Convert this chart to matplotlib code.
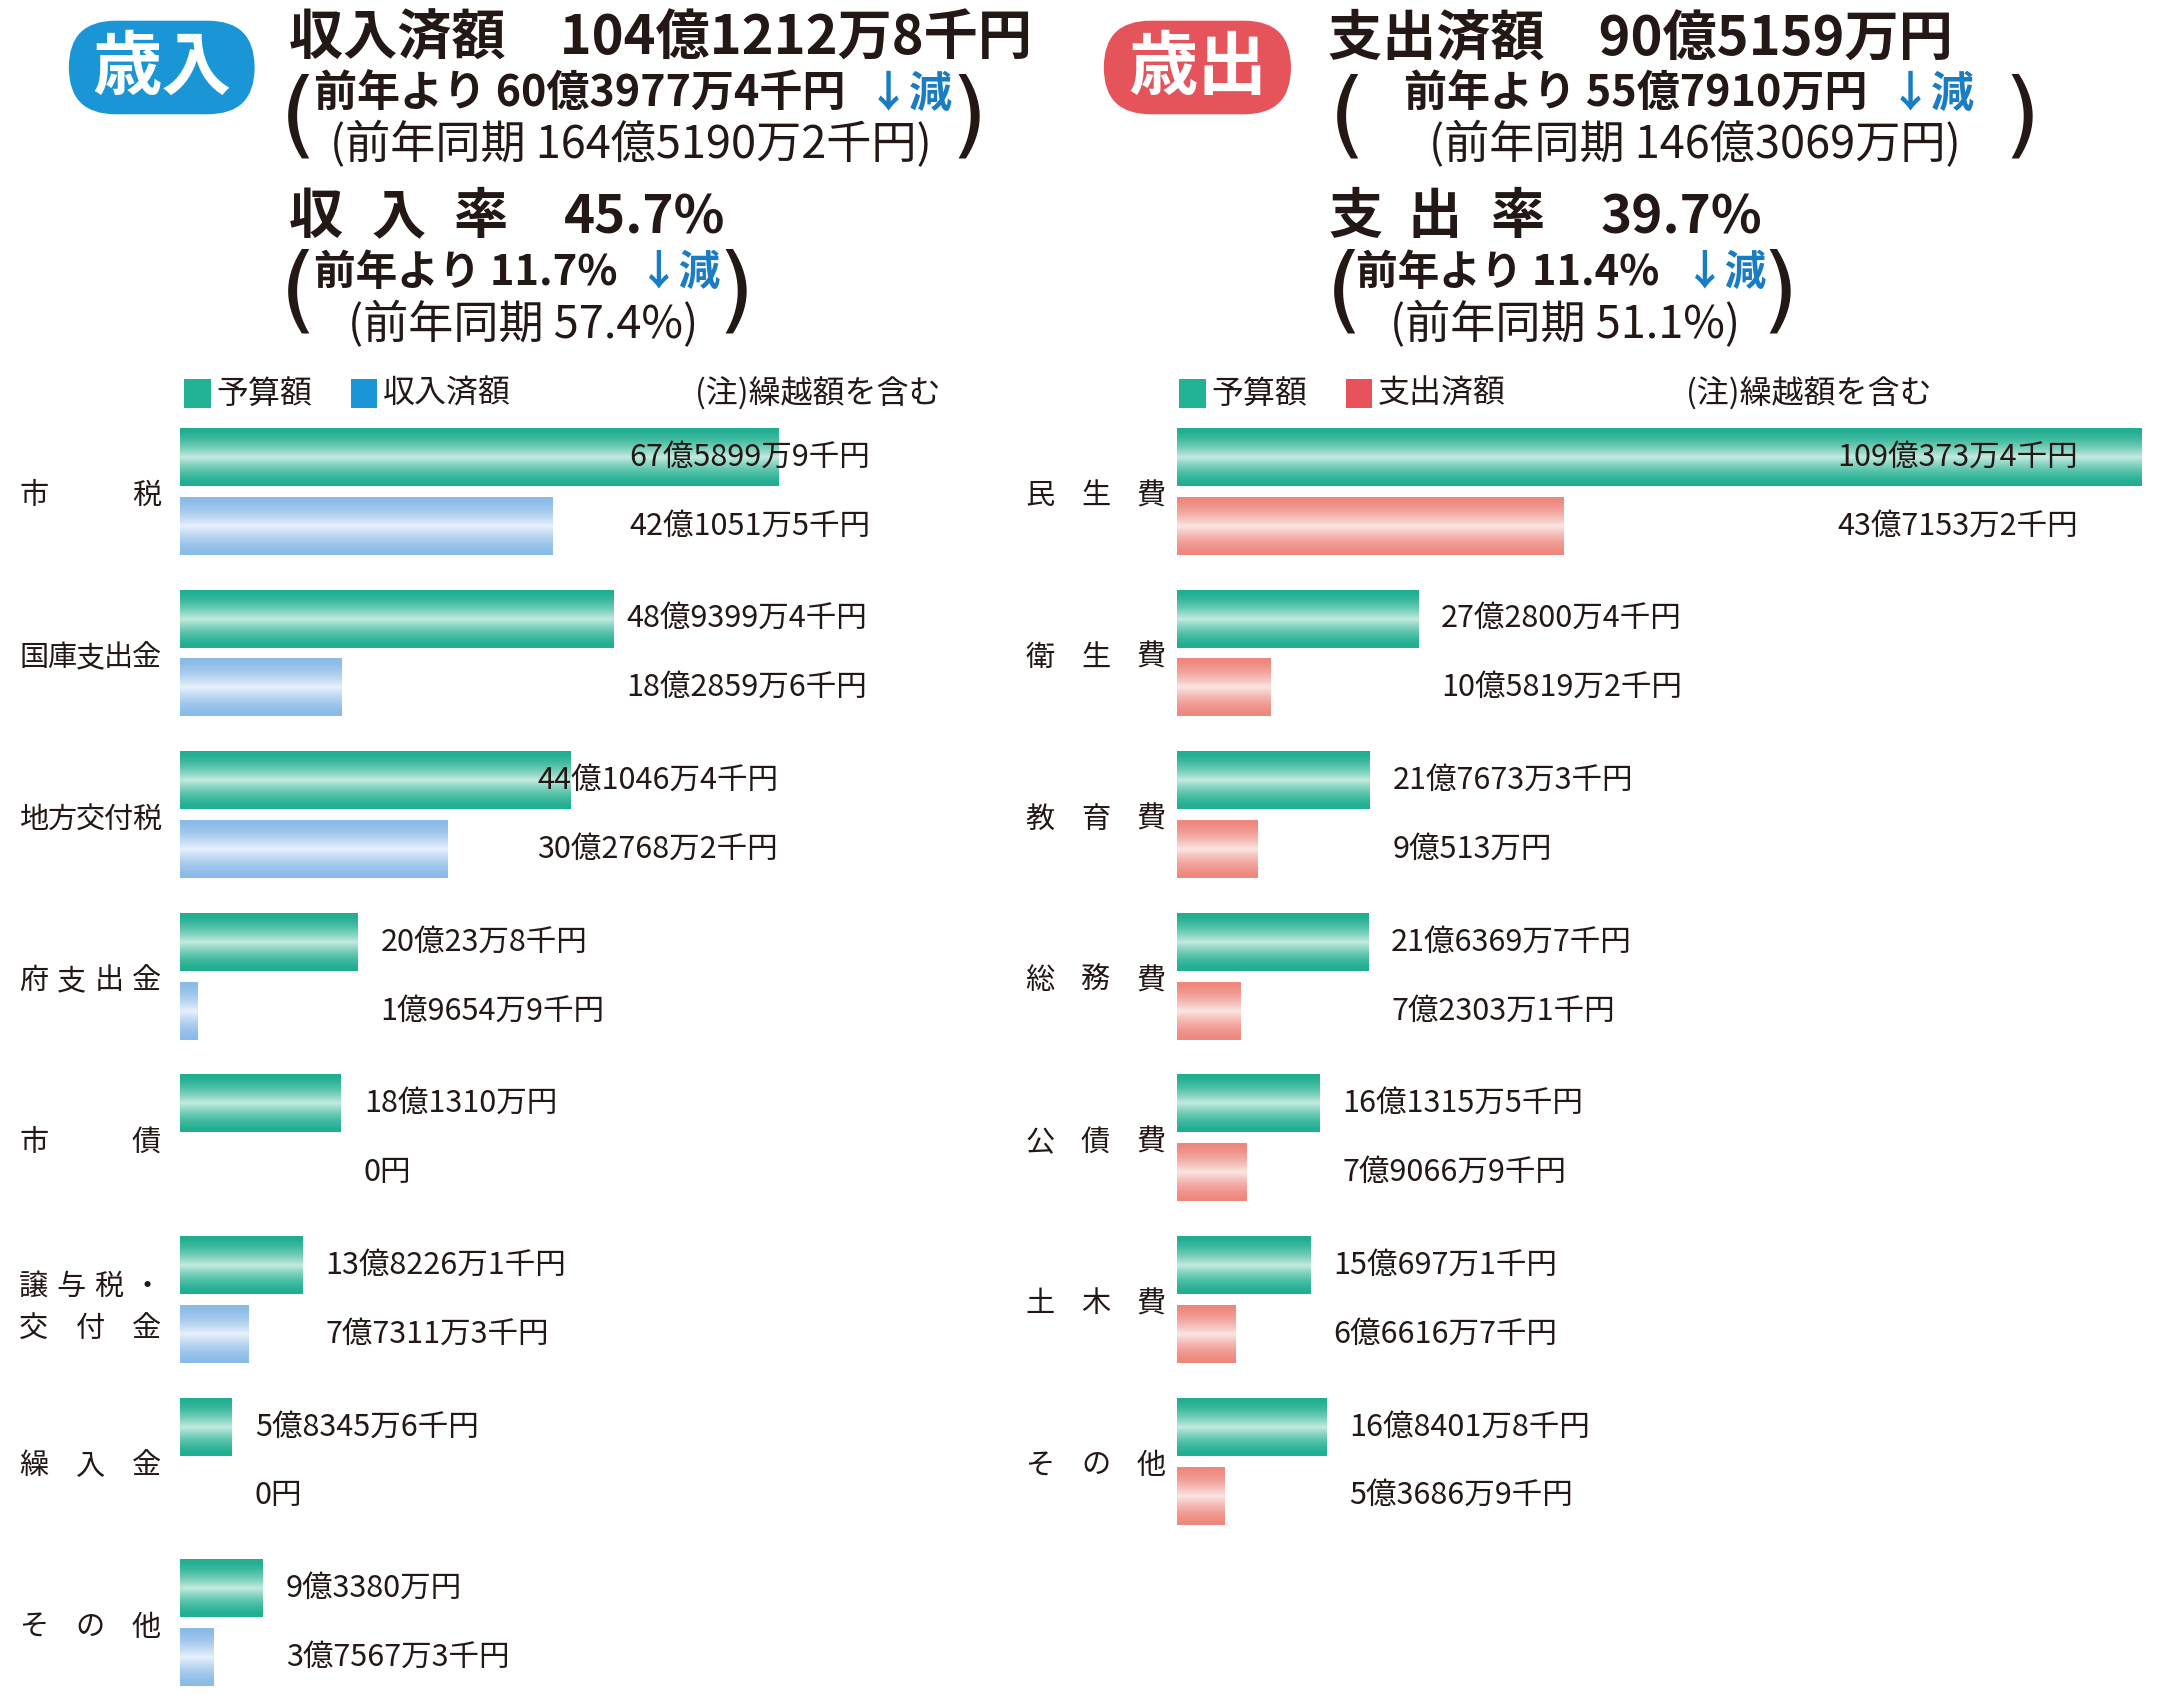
# 歳入・歳出 executed budget chart

import numpy as np
import matplotlib
matplotlib.use('Agg')
import matplotlib.pyplot as plt
from matplotlib.patches import FancyBboxPatch, Rectangle
from matplotlib.transforms import blended_transform_factory

JP = ['Noto Sans CJK JP', 'DejaVu Sans']
plt.rcParams['font.family'] = JP

# values in 千円
rev_cats = ['市税', '国庫支出金', '地方交付税', '府支出金', '市債', '譲与税・\n交付金', '繰入金', 'その他']
rev_budget = [6758999, 4893994, 4410464, 2000238, 1813100, 1382261, 583456, 933800]
rev_actual = [4210515, 1828596, 3027682, 196549, 0, 773113, 0, 375673]

exp_cats = ['民生費', '衛生費', '教育費', '総務費', '公債費', '土木費', 'その他']
exp_budget = [10903734, 2728004, 2176733, 2163697, 1613155, 1506971, 1684018]
exp_actual = [4371532, 1058192, 905130, 723031, 790669, 666167, 536869]

# header texts
rev_head = ['収入済額　104億1212万8千円', '前年より 60億3977万4千円', '(前年同期 164億5190万2千円)',
            '45.7%', '前年より 11.7%', '(前年同期 57.4%)']
exp_head = ['支出済額　90億5159万円', '前年より 55億7910万円', '(前年同期 146億3069万円)',
            '39.7%', '前年より 11.4%', '(前年同期 51.1%)']

GREEN = '#22b394'
BLUE = '#1a96d6'
RED = '#e8525a'
ARROW = '#1a7dc4'

W, H = 1568, 1237   # layout worked out on the shrunk reference


def fx(x):
    return x / W


def fy(y):
    return 1 - y / H


def yen(v):
    if v == 0:
        return '0円'
    oku, man, sen = v // 100000, (v % 100000) // 10, v % 10
    s = ''
    if oku:
        s += f'{oku}億'
    if man:
        s += f'{man}万'
    if sen:
        s += f'{sen}千'
    return s + '円'


def gradient(edge, mid, n=80):
    t = np.linspace(0, 1, n)
    f = (1 - np.abs(2 * t - 1)) ** 1.6
    e = np.array(matplotlib.colors.to_rgb(edge))
    m = np.array(matplotlib.colors.to_rgb(mid))
    return (e[None, :] * (1 - f[:, None]) + m[None, :] * f[:, None])[:, None, :]


fig = plt.figure(figsize=(21.58, 17.03), dpi=100)

PXU = 6.43      # px per 億
STEP = 117.4    # px between groups
C0 = 357        # y of first group centre
BH = 42 / STEP
OFF = 25 / STEP


def spread(ax, s, x0, x1, yd, size=21):
    tr = blended_transform_factory(fig.transFigure, ax.transData)
    n = len(s)
    cw = size * 1.0
    for i, ch in enumerate(s):
        x = x0 + cw / 2 + i * (x1 - x0 - cw) / (n - 1)
        ax.text(fx(x), yd, ch, transform=tr, ha='center', va='center', fontsize=size, color='#231815')


def panel(x0, x1, cats, budget, actual, grad2, label_x, lab_left, lab_right):
    ax = fig.add_axes([fx(x0), fy(H), fx(x1) - fx(x0), fy(300) - fy(H)])
    ylo = (H - C0) / STEP
    yhi = (300 - C0) / STEP
    y = np.arange(len(cats))
    b = np.array(budget) / 100000
    a = np.array(actual) / 100000
    bars1 = ax.barh(y - OFF, b, height=BH, color='none')
    bars2 = ax.barh(y + OFF, a, height=BH, color='none')
    g1 = gradient('#1fae90', '#c4ebdf')
    for bars, g in [(bars1, g1), (bars2, grad2)]:
        for p in bars:
            if p.get_width() <= 0:
                continue
            x, yy, w, h = p.get_x(), p.get_y(), p.get_width(), p.get_height()
            ax.imshow(g, extent=(x, x + w, yy + h, yy), aspect='auto', interpolation='bilinear', zorder=2)
    ax.set_xlim(0, (x1 - x0) / PXU)
    ax.set_ylim(ylo, yhi)
    ax.axis('off')
    for i in range(len(cats)):
        lx = label_x.get(i, b[i] + 2.6)
        ax.text(lx, i - OFF, yen(budget[i]), ha='left', va='center', fontsize=22, color='#231815', zorder=3)
        ax.text(lx, i + OFF, yen(actual[i]), ha='left', va='center', fontsize=22, color='#231815', zorder=3)
        name = cats[i]
        if '\n' in name:
            l1, l2 = name.split('\n')
            spread(ax, l1, lab_left, lab_right, i - 0.08)
            spread(ax, l2, lab_left, lab_right, i + 0.18)
        else:
            spread(ax, name, lab_left, lab_right, i + 0.03)
    return ax


panel(131, 720, rev_cats, rev_budget, rev_actual, gradient('#8abbe8', '#e8f1fb'),
      {0: 50.7, 1: 50.4, 2: 40.3}, 14, 117)
panel(855, 1568, exp_cats, exp_budget, exp_actual, gradient('#ee877e', '#fbe6e3'),
      {0: 74.6}, 745, 847)


def badge(x0, x1, y0, y1, text, color):
    s = 1.3763 / 100
    p = FancyBboxPatch((x0 * s, (H - y1) * s * 1.0003), (x1 - x0) * s, (y1 - y0) * s,
                       boxstyle=f'round,pad=0,rounding_size={(y1 - y0) * s / 2}',
                       transform=fig.dpi_scale_trans, fc=color, ec='none')
    fig.patches.append(p)
    fig.text(fx((x0 + x1) / 2), fy((y0 + y1) / 2 + 1), text, ha='center', va='center',
             fontsize=50, fontweight='bold', color='white')


def txt(x, y, s, size=31, weight='bold', color='#231815', ha='left'):
    fig.text(fx(x), fy(y), s, ha=ha, va='center', fontsize=size, fontweight=weight, color=color)


def paren(x, y, s):
    fig.text(fx(x), fy(y), s, ha='center', va='center', fontsize=68, color='#231815',
             family=['DejaVu Sans'])


def header(x, head, rate_chars, xs, arrow1, arrow2, p1, p2, l3x, l7x, l2x, l6x):
    txt(x, 28, head[0], size=39)
    txt(l2x, 68, head[1])
    txt(arrow1, 68, '↓減', color=ARROW)
    txt(l3x, 105, head[2], size=32.5, weight='normal')
    paren(p1[0], 87, '(')
    paren(p1[1], 87, ')')
    for ch, cx in zip(rate_chars, xs):
        txt(cx, 158, ch, size=39)
    txt(xs[-1] + 80, 158, head[3], size=38)
    txt(l6x, 198, head[4], size=30)
    txt(arrow2, 198, '↓減', size=30, color=ARROW)
    txt(l7x, 236, head[5], size=32.5, weight='normal')
    paren(p2[0], 214, '(')
    paren(p2[1], 214, ')')


badge(50, 185, 15, 83, '歳入', BLUE)
badge(802, 938, 15, 83, '歳出', '#e5545b')

header(210, rev_head, '収入率', [210, 270, 330], 630, 463, (217, 704), (217, 535), 240, 253, 228, 228)
header(965, exp_head, '支出率', [965, 1023, 1083], 1372, 1223, (979, 1469), (977, 1293), 1038, 1010, 1020, 985)


def legend(x, color, label, note_x):
    for sx, c, s in [(x, GREEN, '予算額'), (x + 121, color, label)]:
        fig.patches.append(Rectangle((fx(sx), fy(296)), fx(19), fy(275) - fy(296),
                                     transform=fig.transFigure, fc=c, ec='none'))
        fig.text(fx(sx + 23), fy(286), s, ha='left', va='center', fontsize=23, color='#231815')
    fig.text(fx(note_x), fy(286), '(注)繰越額を含む', ha='left', va='center', fontsize=23, color='#231815')


legend(134, BLUE, '収入済額', 505)
legend(857, RED, '支出済額', 1225)

fig.savefig('out.png', dpi=100, facecolor='white')
